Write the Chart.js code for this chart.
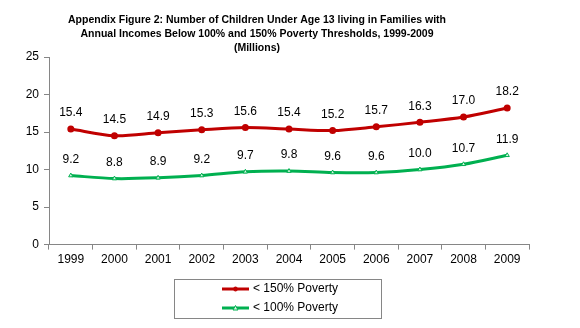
<!DOCTYPE html>
<html>
<head>
<meta charset="utf-8">
<script src="https://cdn.jsdelivr.net/npm/chart.js@4"></script>
<style>
  html, body { margin: 0; padding: 0; background: #fff; }
  #wrap { width: 580px; height: 328px; }
</style>
</head>
<body>
<div id="wrap"><canvas id="chart" width="580" height="328"></canvas></div>
<script>
// chart data
const years = ['1999', '2000', '2001', '2002', '2003', '2004', '2005', '2006', '2007', '2008', '2009'];
const below150 = [15.4, 14.5, 14.9, 15.3, 15.6, 15.4, 15.2, 15.7, 16.3, 17.0, 18.2];
const below100 = [9.2, 8.8, 8.9, 9.2, 9.7, 9.8, 9.6, 9.6, 10.0, 10.7, 11.9];
const seriesNames = ['< 150% Poverty', '< 100% Poverty'];
const titleLines = [
    'Appendix Figure 2: Number of Children Under Age 13 living in Families with',
    'Annual Incomes Below 100% and 150% Poverty Thresholds, 1999-2009',
    '(Millions)'
];

const FONT = 'Arial, "Liberation Sans", sans-serif';

// title, centred a bit left of the plot like the original
const titleText = {
    id: 'titleText',
    afterDraw(chart) {
        let ctx = chart.ctx;
        ctx.save();
        ctx.font = 'bold 10.5px ' + FONT;
        ctx.fillStyle = '#000';
        ctx.textAlign = 'center';
        ctx.textBaseline = 'middle';
        titleLines.forEach(function(line, i) {
            ctx.fillText(line, 257, 20 + i * 14);
        });
        ctx.restore();
    }
};

// labels above every point
const valueLabels = {
    id: 'valueLabels',
    afterDatasetsDraw(chart) {
        let ctx = chart.ctx;
        ctx.save();
        ctx.font = '12px ' + FONT;
        ctx.fillStyle = '#000';
        ctx.textAlign = 'center';
        ctx.textBaseline = 'middle';
        chart.data.datasets.forEach(function(ds, i) {
            let meta = chart.getDatasetMeta(i);
            meta.data.forEach(function(pt, j) {
                ctx.fillText(ds.data[j].toFixed(1), pt.x, pt.y - 16);
            });
        });
        ctx.restore();
    }
};

// boxed legend, one entry per row
const boxLegend = {
    id: 'boxLegend',
    afterDraw(chart) {
        let ctx = chart.ctx;
        ctx.save();
        ctx.strokeStyle = '#868686';
        ctx.lineWidth = 1;
        ctx.strokeRect(174.5, 279.5, 207, 39);
        ctx.font = '12px ' + FONT;
        ctx.textBaseline = 'middle';
        ctx.textAlign = 'left';
        chart.data.datasets.forEach(function(ds, i) {
            let y = 289 + i * 19;
            ctx.strokeStyle = ds.borderColor;
            ctx.lineWidth = 3;
            ctx.beginPath();
            ctx.moveTo(222, y);
            ctx.lineTo(249, y);
            ctx.stroke();
            ctx.fillStyle = ds.pointBackgroundColor;
            ctx.strokeStyle = ds.pointBorderColor;
            ctx.lineWidth = 1;
            ctx.beginPath();
            if (ds.pointStyle === 'triangle') {
                ctx.moveTo(235.5, y - 2.5);
                ctx.lineTo(238, y + 2);
                ctx.lineTo(233, y + 2);
                ctx.closePath();
            } else {
                ctx.arc(235.5, y, 2, 0, Math.PI * 2);
            }
            ctx.fill();
            ctx.stroke();
            ctx.fillStyle = '#000';
            ctx.fillText(ds.label, 253, y);
        });
        ctx.restore();
    }
};

new Chart(document.getElementById('chart'), {
    type: 'line',
    data: {
        labels: years,
        datasets: [{
            label: seriesNames[0],
            data: below150,
            borderColor: '#C00000',
            borderWidth: 3,
            pointStyle: 'circle',
            pointRadius: 2,
            pointBackgroundColor: '#C00000',
            pointBorderColor: '#C00000',
            tension: 0.3
        }, {
            label: seriesNames[1],
            data: below100,
            borderColor: '#00B050',
            borderWidth: 3,
            pointStyle: 'triangle',
            pointRadius: 2.5,
            pointBorderWidth: 1,
            pointBackgroundColor: '#D8F5E3',
            pointBorderColor: '#00B050',
            tension: 0.3
        }]
    },
    options: {
        responsive: false,
        animation: false,
        layout: {
            padding: { left: 0, right: 51, top: 57, bottom: 58 }
        },
        plugins: {
            legend: { display: false },
            tooltip: { enabled: false },
            title: { display: false }
        },
        scales: {
            x: {
                offset: true,
                grid: {
                    offset: true,
                    drawOnChartArea: false,
                    color: '#868686',
                    tickLength: 5
                },
                border: { color: '#868686' },
                ticks: { color: '#000', font: { family: FONT, size: 12 }, padding: 3 }
            },
            y: {
                min: 0,
                max: 25,
                ticks: { stepSize: 5, color: '#000', font: { family: FONT, size: 12 }, padding: 5 },
                grid: { drawOnChartArea: false, color: '#868686', tickLength: 5 },
                border: { color: '#868686' },
                afterFit(scale) { scale.width = 49; }
            }
        }
    },
    plugins: [titleText, valueLabels, boxLegend]
});
</script>
</body>
</html>
